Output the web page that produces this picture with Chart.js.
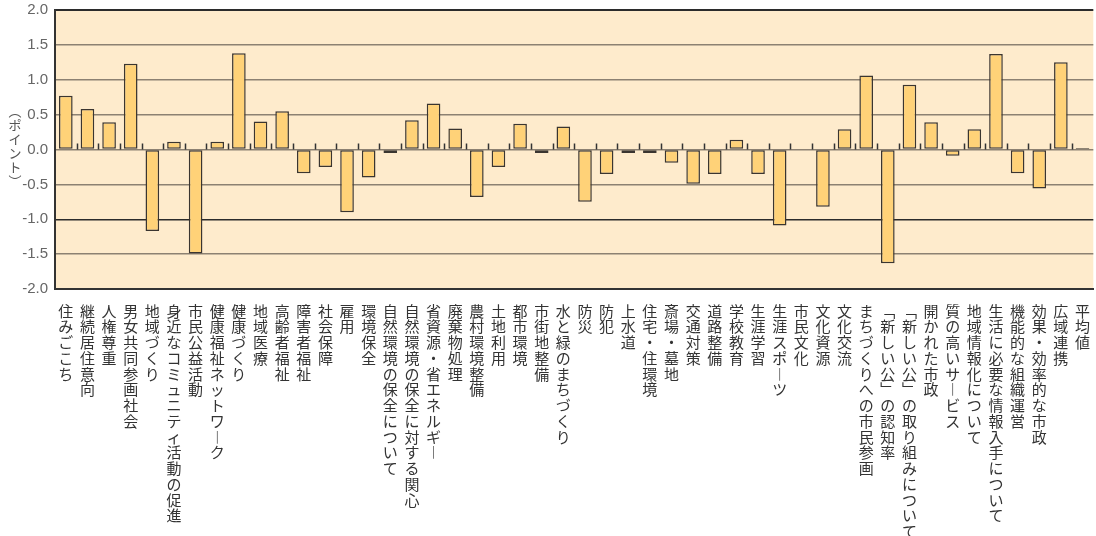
<!DOCTYPE html>
<html lang="ja">
<head>
<meta charset="utf-8">
<title>項目別ポイント</title>
<script src="https://cdn.jsdelivr.net/npm/chart.js@4/dist/chart.umd.min.js"></script>
<style>
    html, body { margin: 0; padding: 0; background: #fff; }
    #wrap { position: relative; width: 1096px; height: 536px; }
</style>
</head>
<body>
<div id="wrap">
    <canvas id="pointChart"></canvas>
</div>
<script>
const categories = [
    '住みごこち', '継続居住意向', '人権尊重', '男女共同参画社会', '地域づくり',
    '身近なコミュニティ活動の促進', '市民公益活動', '健康福祉ネットワーク', '健康づくり', '地域医療',
    '高齢者福祉', '障害者福祉', '社会保障', '雇用', '環境保全',
    '自然環境の保全について', '自然環境の保全に対する関心', '省資源・省エネルギー', '廃棄物処理', '農村環境整備',
    '土地利用', '都市環境', '市街地整備', '水と緑のまちづくり', '防災',
    '防犯', '上水道', '住宅・住環境', '斎場・墓地', '交通対策',
    '道路整備', '学校教育', '生涯学習', '生涯スポーツ', '市民文化',
    '文化資源', '文化交流', 'まちづくりへの市民参画', '「新しい公」の認知率', '「新しい公」の取り組みについて',
    '開かれた市政', '質の高いサービス', '地域情報化について', '生活に必要な情報入手について', '機能的な組織運営',
    '効果・効率的な市政', '広域連携', '平均値'
];

const points = [
    0.77, 0.58, 0.39, 1.23, -1.17,
    0.11, -1.49, 0.11, 1.38, 0.40,
    0.55, -0.34, -0.25, -0.90, -0.40,
    -0.05, 0.42, 0.66, 0.30, -0.68,
    -0.25, 0.37, -0.05, 0.33, -0.75,
    -0.35, -0.05, -0.05, -0.19, -0.49,
    -0.35, 0.14, -0.35, -1.09, 0.00,
    -0.82, 0.29, 1.06, -1.63, 0.93,
    0.39, -0.09, 0.29, 1.37, -0.34,
    -0.56, 1.25, 0.02
];

const yMin = -2.0;
const yMax = 2.0;
const yStep = 0.5;
const yTitle = '（ポイント）';

// vertical writing: one character per line, with vertical forms where needed
const verticalForms = { 'ー': '︱', '「': '﹁', '」': '﹂', '（': '︵', '）': '︶' };
function toVertical(label) {
    return Array.from(label).map((ch) => verticalForms[ch] || ch);
}

const plotBackground = {
    id: 'plotBackground',
    beforeDraw(chart) {
        const { ctx, chartArea } = chart;
        ctx.save();
        ctx.fillStyle = '#feebcc';
        ctx.fillRect(chartArea.left, chartArea.top, chartArea.right - chartArea.left, chartArea.bottom - chartArea.top);
        ctx.restore();
    }
};

// short tick marks on the zero line between categories, plus the vertical axis title
const zeroTicks = {
    id: 'zeroTicks',
    afterDatasetsDraw(chart) {
        const { ctx, chartArea } = chart;
        const x = chart.scales.x;
        const y0 = chart.scales.y.getPixelForValue(0);
        ctx.save();
        ctx.strokeStyle = '#333';
        ctx.lineWidth = 1.5;
        ctx.beginPath();
        for (let i = 1; i < categories.length; i++) {
            const px = Math.round((x.getPixelForValue(i - 1) + x.getPixelForValue(i)) / 2) + 0.5;
            ctx.moveTo(px, y0);
            ctx.lineTo(px, y0 - 6);
        }
        ctx.stroke();

        const chars = toVertical(yTitle);
        const step = 14;
        let ty = (chartArea.top + chartArea.bottom) / 2 - (chars.length * step) / 2 - 3;
        ctx.fillStyle = '#555';
        ctx.font = '13px "Noto Sans CJK JP", sans-serif';
        ctx.textAlign = 'center';
        ctx.textBaseline = 'top';
        chars.forEach((ch) => {
            ctx.fillText(ch, 15, ty);
            ty += step;
        });
        ctx.restore();
    }
};

new Chart(document.getElementById('pointChart').getContext('2d'), {
    type: 'bar',
    data: {
        labels: categories.map(toVertical),
        datasets: [{
            data: points,
            backgroundColor: '#ffd278',
            borderColor: '#3a3530',
            borderWidth: 1.5,
            borderSkipped: false,
            barPercentage: 0.63,
            categoryPercentage: 1
        }]
    },
    options: {
        responsive: true,
        maintainAspectRatio: false,
        animation: false,
        layout: { padding: { top: 10, right: 0, left: 0, bottom: 0 } },
        plugins: {
            legend: { display: false },
            tooltip: { enabled: false }
        },
        scales: {
            x: {
                grid: { display: false },
                border: { display: true, color: '#333', width: 2 },
                ticks: {
                    autoSkip: false,
                    maxRotation: 0,
                    minRotation: 0,
                    padding: 6,
                    color: '#333',
                    font: { family: '"Noto Sans CJK JP", sans-serif', size: 15, lineHeight: 1.05 }
                },
                afterFit(scale) { scale.height = 247; }
            },
            y: {
                min: yMin,
                max: yMax,
                grid: {
                    drawTicks: false,
                    lineWidth: (c) => (c.tick && Math.abs(c.tick.value) === 2 ? 2 : 1.5),
                    color: (c) => {
                        const v = c.tick ? c.tick.value : 0;
                        return (v === -1 || Math.abs(v) === 2) ? '#2b2b2b' : '#8c8172';
                    }
                },
                border: { display: true, color: '#333', width: 2 },
                ticks: {
                    stepSize: yStep,
                    padding: 7,
                    color: '#666',
                    font: { family: '"Liberation Sans", Arial, sans-serif', size: 15 },
                    callback: (v) => Number(v).toFixed(1)
                },
                afterFit(scale) {
                    scale.width = 55;
                    scale.paddingTop = 0;
                    scale.paddingBottom = 0;
                }
            }
        }
    },
    plugins: [plotBackground, zeroTicks]
});
</script>
</body>
</html>
